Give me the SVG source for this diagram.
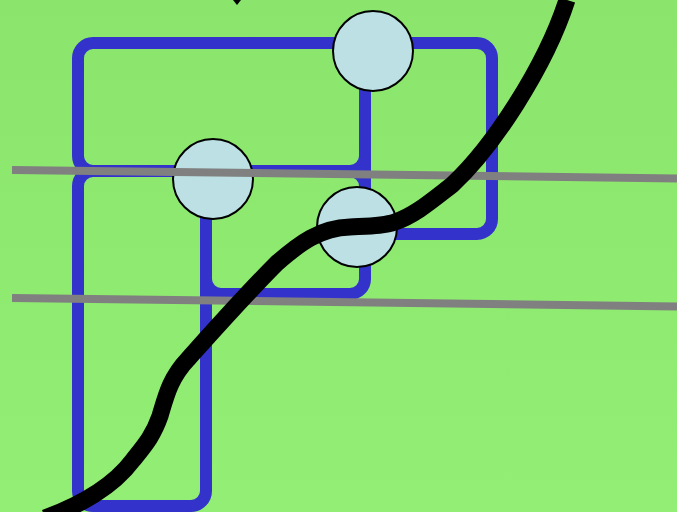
<svg xmlns="http://www.w3.org/2000/svg" width="677" height="512" viewBox="0 0 677 512">
  <defs>
    <linearGradient id="bg" x1="0" y1="0" x2="0" y2="1">
      <stop offset="0" stop-color="#8be56c"/>
      <stop offset="1" stop-color="#92ee74"/>
    </linearGradient>
    <style>
      .wire{fill:none;stroke:#3333cc;stroke-width:12}
      .rail{fill:none;stroke:#808080;stroke-width:8}
      .node{fill:#bce0e3;stroke:#000;stroke-width:2}
      .track{fill:none;stroke:#000;stroke-width:17;stroke-linecap:butt}
    </style>
  </defs>
  <rect width="677" height="512" fill="url(#bg)"/>
  <g id="connectors">
    <g id="blue-wires">
      <rect class="wire" x="78" y="43" width="287" height="128" rx="15"/>
      <rect class="wire" x="365" y="43" width="127" height="191" rx="15"/>
      <rect class="wire" x="206" y="171" width="159" height="123" rx="15"/>
      <rect class="wire" x="78" y="171" width="128" height="335" rx="15"/>
    </g>
  </g>
  <g id="node-a"><circle class="node" cx="373" cy="51" r="40"/></g>
  <g id="node-b"><circle class="node" cx="213" cy="179" r="40"/></g>
  <g id="node-c"><circle class="node" cx="357" cy="227" r="40"/></g>
  <g id="rails">
    <line class="rail" x1="12" y1="170" x2="677" y2="178.5"/>
    <line class="rail" x1="12" y1="298" x2="677" y2="306.5"/>
  </g>
  <g id="track">
    <path class="track" d="M45 518 C80 505 112 488 133 460 C145 445 153 436 160 416 C166 396 170 378 188 359 C206 339 245 295 277 263 C300 243 320 228 350 227 C370 226 384 226 395 222 C415 215 430 202 452 185 C492 148 545 68 567 0"/>
    <polygon points="233,0 241,0 237,5" fill="#000"/>
  </g>
</svg>
